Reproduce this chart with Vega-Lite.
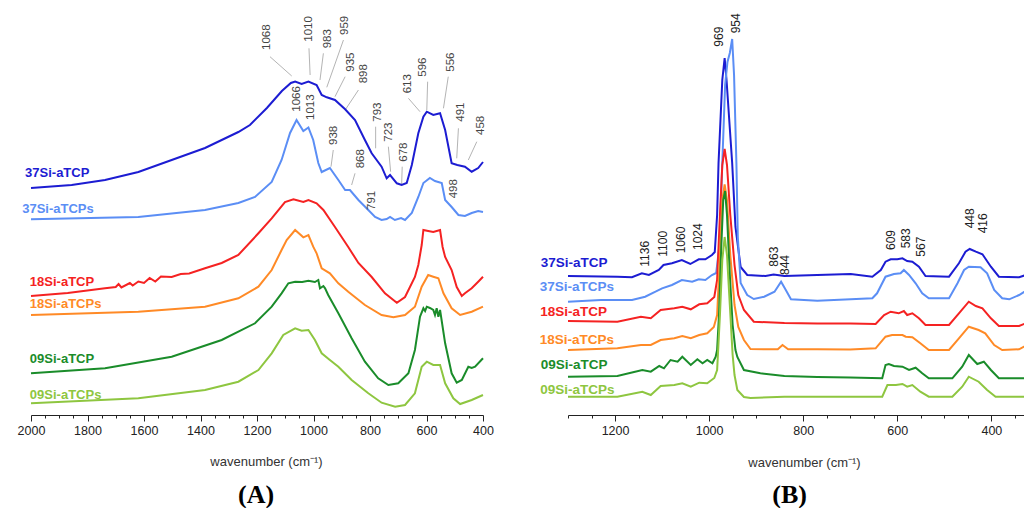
{
  "$schema": "https://vega.github.io/schema/vega-lite/v6.json",
  "padding": {"left": 17, "top": 10, "right": 0, "bottom": 0},
  "bounds": "flush",
  "spacing": 85,
  "background": "white",
  "config": {
    "view": {"stroke": null},
    "font": "Liberation Sans",
    "axis": {"labelFont": "Liberation Sans", "titleFont": "Liberation Sans"}
  },
  "datasets": {
    "ftir": [
      {"s":"P37","x":2000,"y":227},{"s":"P37","x":1856,"y":230},{"s":"P37","x":1738,"y":235},{"s":"P37","x":1620,"y":243},{"s":"P37","x":1502,"y":255},{"s":"P37","x":1384,"y":267},{"s":"P37","x":1266,"y":283},{"s":"P37","x":1225,"y":290},{"s":"P37","x":1165,"y":307},{"s":"P37","x":1112,"y":324},{"s":"P37","x":1080,"y":332},{"s":"P37","x":1065,"y":333.5},{"s":"P37","x":1042,"y":331},{"s":"P37","x":1018,"y":333.5},{"s":"P37","x":989,"y":330},{"s":"P37","x":971,"y":320},{"s":"P37","x":953,"y":317.7},{"s":"P37","x":924,"y":315},{"s":"P37","x":888,"y":305.7},{"s":"P37","x":853,"y":295},{"s":"P37","x":818,"y":275},{"s":"P37","x":794,"y":261.7},{"s":"P37","x":759,"y":248.3},{"s":"P37","x":741,"y":236.7},{"s":"P37","x":729,"y":240},{"s":"P37","x":705,"y":231.7},{"s":"P37","x":688,"y":230},{"s":"P37","x":670,"y":232},{"s":"P37","x":652,"y":250},{"s":"P37","x":629,"y":281.7},{"s":"P37","x":611,"y":298.3},{"s":"P37","x":599,"y":303.3},{"s":"P37","x":576,"y":300},{"s":"P37","x":552,"y":301.7},{"s":"P37","x":534,"y":285},{"s":"P37","x":511,"y":251.7},{"s":"P37","x":491,"y":250},{"s":"P37","x":464,"y":248.3},{"s":"P37","x":440,"y":243.3},{"s":"P37","x":417,"y":247},{"s":"P37","x":400,"y":253},
      {"s":"S37","x":2000,"y":195.7},{"s":"S37","x":1620,"y":198},{"s":"S37","x":1384,"y":205},{"s":"S37","x":1266,"y":212},{"s":"S37","x":1207,"y":218},{"s":"S37","x":1148,"y":233},{"s":"S37","x":1113,"y":255},{"s":"S37","x":1083,"y":282},{"s":"S37","x":1060,"y":295},{"s":"S37","x":1036,"y":284},{"s":"S37","x":1018,"y":287.5},{"s":"S37","x":1001,"y":275},{"s":"S37","x":983,"y":252},{"s":"S37","x":971,"y":243},{"s":"S37","x":942,"y":247},{"s":"S37","x":912,"y":235},{"s":"S37","x":888,"y":225},{"s":"S37","x":871,"y":225},{"s":"S37","x":841,"y":215},{"s":"S37","x":806,"y":205},{"s":"S37","x":782,"y":198},{"s":"S37","x":759,"y":195},{"s":"S37","x":741,"y":196},{"s":"S37","x":729,"y":198},{"s":"S37","x":712,"y":195},{"s":"S37","x":690,"y":197},{"s":"S37","x":676,"y":195},{"s":"S37","x":652,"y":202},{"s":"S37","x":629,"y":218},{"s":"S37","x":611,"y":232},{"s":"S37","x":588,"y":237},{"s":"S37","x":570,"y":234},{"s":"S37","x":546,"y":232},{"s":"S37","x":534,"y":215},{"s":"S37","x":511,"y":208},{"s":"S37","x":487,"y":200},{"s":"S37","x":464,"y":199},{"s":"S37","x":440,"y":202},{"s":"S37","x":417,"y":204},{"s":"S37","x":400,"y":203},
      {"s":"P18","x":2000,"y":119},{"s":"P18","x":1870,"y":122},{"s":"P18","x":1738,"y":126.7},{"s":"P18","x":1700,"y":128},{"s":"P18","x":1690,"y":131},{"s":"P18","x":1680,"y":127.5},{"s":"P18","x":1650,"y":132},{"s":"P18","x":1640,"y":129.5},{"s":"P18","x":1620,"y":133.5},{"s":"P18","x":1600,"y":132},{"s":"P18","x":1580,"y":137},{"s":"P18","x":1560,"y":133.5},{"s":"P18","x":1540,"y":138.5},{"s":"P18","x":1502,"y":138},{"s":"P18","x":1470,"y":141},{"s":"P18","x":1440,"y":141.5},{"s":"P18","x":1384,"y":146.7},{"s":"P18","x":1325,"y":152},{"s":"P18","x":1266,"y":160},{"s":"P18","x":1195,"y":181.7},{"s":"P18","x":1148,"y":196.7},{"s":"P18","x":1101,"y":213},{"s":"P18","x":1071,"y":215.7},{"s":"P18","x":1036,"y":213},{"s":"P18","x":1018,"y":215},{"s":"P18","x":989,"y":211.7},{"s":"P18","x":965,"y":205},{"s":"P18","x":924,"y":188},{"s":"P18","x":877,"y":168},{"s":"P18","x":841,"y":152},{"s":"P18","x":794,"y":138},{"s":"P18","x":747,"y":121.7},{"s":"P18","x":705,"y":112.3},{"s":"P18","x":676,"y":118},{"s":"P18","x":641,"y":138},{"s":"P18","x":629,"y":150},{"s":"P18","x":617,"y":170},{"s":"P18","x":611,"y":185},{"s":"P18","x":594,"y":184},{"s":"P18","x":576,"y":183},{"s":"P18","x":552,"y":185},{"s":"P18","x":543,"y":168},{"s":"P18","x":534,"y":158},{"s":"P18","x":511,"y":145},{"s":"P18","x":493,"y":128},{"s":"P18","x":475,"y":119},{"s":"P18","x":464,"y":121.7},{"s":"P18","x":440,"y":126.7},{"s":"P18","x":417,"y":133.3},{"s":"P18","x":400,"y":138.3},
      {"s":"S18","x":2000,"y":100},{"s":"S18","x":1620,"y":103.3},{"s":"S18","x":1384,"y":108.3},{"s":"S18","x":1266,"y":116.7},{"s":"S18","x":1195,"y":128.3},{"s":"S18","x":1148,"y":145},{"s":"S18","x":1113,"y":165},{"s":"S18","x":1095,"y":175},{"s":"S18","x":1065,"y":185},{"s":"S18","x":1036,"y":177.7},{"s":"S18","x":1018,"y":180},{"s":"S18","x":1001,"y":168.3},{"s":"S18","x":989,"y":161.7},{"s":"S18","x":971,"y":146.7},{"s":"S18","x":942,"y":141.7},{"s":"S18","x":912,"y":131.7},{"s":"S18","x":877,"y":123.3},{"s":"S18","x":818,"y":110},{"s":"S18","x":759,"y":100},{"s":"S18","x":717,"y":97.7},{"s":"S18","x":676,"y":100},{"s":"S18","x":641,"y":108.3},{"s":"S18","x":617,"y":128.3},{"s":"S18","x":594,"y":140},{"s":"S18","x":576,"y":138.3},{"s":"S18","x":558,"y":136.7},{"s":"S18","x":540,"y":121.7},{"s":"S18","x":511,"y":106.7},{"s":"S18","x":481,"y":100},{"s":"S18","x":440,"y":103.3},{"s":"S18","x":400,"y":108.3},
      {"s":"P09","x":2000,"y":41.7},{"s":"P09","x":1738,"y":46.7},{"s":"P09","x":1502,"y":58.3},{"s":"P09","x":1325,"y":75},{"s":"P09","x":1207,"y":91.7},{"s":"P09","x":1148,"y":108.3},{"s":"P09","x":1113,"y":121.7},{"s":"P09","x":1089,"y":131.7},{"s":"P09","x":1065,"y":133.3},{"s":"P09","x":1040,"y":133},{"s":"P09","x":1018,"y":134.3},{"s":"P09","x":995,"y":133},{"s":"P09","x":983,"y":135},{"s":"P09","x":977,"y":126.7},{"s":"P09","x":965,"y":129},{"s":"P09","x":959,"y":126.7},{"s":"P09","x":948,"y":120},{"s":"P09","x":912,"y":101.7},{"s":"P09","x":865,"y":76.7},{"s":"P09","x":818,"y":53.3},{"s":"P09","x":771,"y":36.7},{"s":"P09","x":735,"y":30},{"s":"P09","x":700,"y":31.7},{"s":"P09","x":664,"y":41.7},{"s":"P09","x":641,"y":65},{"s":"P09","x":623,"y":98.3},{"s":"P09","x":611,"y":106.7},{"s":"P09","x":605,"y":104},{"s":"P09","x":599,"y":108.3},{"s":"P09","x":588,"y":107},{"s":"P09","x":576,"y":105},{"s":"P09","x":570,"y":100},{"s":"P09","x":564,"y":106.7},{"s":"P09","x":558,"y":98.3},{"s":"P09","x":552,"y":105},{"s":"P09","x":534,"y":71.7},{"s":"P09","x":511,"y":41.7},{"s":"P09","x":493,"y":32.3},{"s":"P09","x":475,"y":35},{"s":"P09","x":452,"y":48.3},{"s":"P09","x":440,"y":47},{"s":"P09","x":428,"y":48.3},{"s":"P09","x":400,"y":56.7},
      {"s":"S09","x":2000,"y":11.7},{"s":"S09","x":1620,"y":16.7},{"s":"S09","x":1384,"y":25},{"s":"S09","x":1266,"y":33.3},{"s":"S09","x":1195,"y":45},{"s":"S09","x":1148,"y":61.7},{"s":"S09","x":1107,"y":80},{"s":"S09","x":1065,"y":86.7},{"s":"S09","x":1042,"y":84.3},{"s":"S09","x":1018,"y":85},{"s":"S09","x":995,"y":75},{"s":"S09","x":971,"y":61.7},{"s":"S09","x":942,"y":55},{"s":"S09","x":912,"y":48.3},{"s":"S09","x":865,"y":35},{"s":"S09","x":806,"y":21.7},{"s":"S09","x":759,"y":12.3},{"s":"S09","x":711,"y":8.3},{"s":"S09","x":676,"y":10},{"s":"S09","x":641,"y":21.7},{"s":"S09","x":617,"y":48.3},{"s":"S09","x":599,"y":53.3},{"s":"S09","x":576,"y":50},{"s":"S09","x":552,"y":50},{"s":"S09","x":534,"y":31.7},{"s":"S09","x":505,"y":16.7},{"s":"S09","x":481,"y":11},{"s":"S09","x":440,"y":15},{"s":"S09","x":400,"y":20}
    ],
    "raman": [
      {"s":"P37","x":1300,"y":139},{"s":"P37","x":1195,"y":138.3},{"s":"P37","x":1164,"y":137.7},{"s":"P37","x":1143,"y":141.7},{"s":"P37","x":1128,"y":140},{"s":"P37","x":1107,"y":145},{"s":"P37","x":1097,"y":150},{"s":"P37","x":1079,"y":151.7},{"s":"P37","x":1058,"y":155},{"s":"P37","x":1040,"y":151},{"s":"P37","x":1022,"y":155.7},{"s":"P37","x":1008,"y":155.7},{"s":"P37","x":994,"y":160},{"s":"P37","x":988,"y":163},{"s":"P37","x":983,"y":200},{"s":"P37","x":980,"y":252},{"s":"P37","x":972,"y":335},{"s":"P37","x":967,"y":357},{"s":"P37","x":963,"y":335},{"s":"P37","x":951,"y":252},{"s":"P37","x":944,"y":188},{"s":"P37","x":933,"y":148},{"s":"P37","x":919,"y":140},{"s":"P37","x":880,"y":139},{"s":"P37","x":863,"y":140.5},{"s":"P37","x":840,"y":139},{"s":"P37","x":770,"y":140},{"s":"P37","x":699,"y":141},{"s":"P37","x":653,"y":138.3},{"s":"P37","x":635,"y":145},{"s":"P37","x":625,"y":153.3},{"s":"P37","x":614,"y":155.7},{"s":"P37","x":600,"y":155.7},{"s":"P37","x":589,"y":156.7},{"s":"P37","x":579,"y":154},{"s":"P37","x":568,"y":153.3},{"s":"P37","x":554,"y":148.3},{"s":"P37","x":540,"y":139},{"s":"P37","x":490,"y":138.3},{"s":"P37","x":469,"y":151.7},{"s":"P37","x":455,"y":163.3},{"s":"P37","x":446,"y":166},{"s":"P37","x":433,"y":163.3},{"s":"P37","x":419,"y":160.7},{"s":"P37","x":401,"y":148.3},{"s":"P37","x":384,"y":138.3},{"s":"P37","x":341,"y":137.7},{"s":"P37","x":320,"y":141},
      {"s":"S37","x":1300,"y":113.3},{"s":"S37","x":1230,"y":115},{"s":"S37","x":1164,"y":115},{"s":"S37","x":1136,"y":118.3},{"s":"S37","x":1114,"y":123.3},{"s":"S37","x":1100,"y":126.7},{"s":"S37","x":1079,"y":130},{"s":"S37","x":1058,"y":135},{"s":"S37","x":1036,"y":133.3},{"s":"S37","x":1022,"y":135.7},{"s":"S37","x":1008,"y":135},{"s":"S37","x":994,"y":140},{"s":"S37","x":985,"y":142},{"s":"S37","x":978,"y":170},{"s":"S37","x":972,"y":252},{"s":"S37","x":966,"y":330},{"s":"S37","x":961,"y":353},{"s":"S37","x":956,"y":362},{"s":"S37","x":951,"y":376},{"s":"S37","x":947,"y":340},{"s":"S37","x":942,"y":252},{"s":"S37","x":939,"y":178},{"s":"S37","x":933,"y":132},{"s":"S37","x":919,"y":120},{"s":"S37","x":905,"y":116},{"s":"S37","x":883,"y":118.3},{"s":"S37","x":861,"y":123.3},{"s":"S37","x":847,"y":133.3},{"s":"S37","x":837,"y":125},{"s":"S37","x":826,"y":115.7},{"s":"S37","x":770,"y":114.3},{"s":"S37","x":699,"y":115.7},{"s":"S37","x":653,"y":116.7},{"s":"S37","x":643,"y":121.7},{"s":"S37","x":625,"y":138.3},{"s":"S37","x":607,"y":141},{"s":"S37","x":593,"y":141.7},{"s":"S37","x":586,"y":145},{"s":"S37","x":575,"y":140},{"s":"S37","x":561,"y":131.7},{"s":"S37","x":547,"y":121.7},{"s":"S37","x":533,"y":116.7},{"s":"S37","x":490,"y":116.7},{"s":"S37","x":472,"y":131.7},{"s":"S37","x":458,"y":145},{"s":"S37","x":448,"y":148.3},{"s":"S37","x":423,"y":147.7},{"s":"S37","x":409,"y":141.7},{"s":"S37","x":394,"y":125},{"s":"S37","x":377,"y":116.7},{"s":"S37","x":362,"y":115.7},{"s":"S37","x":341,"y":120},{"s":"S37","x":320,"y":126},
      {"s":"P18","x":1300,"y":94},{"s":"P18","x":1195,"y":93.3},{"s":"P18","x":1145,"y":98.3},{"s":"P18","x":1124,"y":96.7},{"s":"P18","x":1103,"y":105},{"s":"P18","x":1074,"y":106.7},{"s":"P18","x":1057,"y":108.3},{"s":"P18","x":1039,"y":105.7},{"s":"P18","x":1021,"y":110.7},{"s":"P18","x":1004,"y":111.7},{"s":"P18","x":989,"y":118},{"s":"P18","x":983,"y":135},{"s":"P18","x":977,"y":200},{"s":"P18","x":972,"y":250},{"s":"P18","x":967,"y":266},{"s":"P18","x":962,"y":250},{"s":"P18","x":955,"y":200},{"s":"P18","x":946,"y":150},{"s":"P18","x":938,"y":120},{"s":"P18","x":926,"y":105},{"s":"P18","x":905,"y":93.3},{"s":"P18","x":840,"y":92},{"s":"P18","x":770,"y":91.5},{"s":"P18","x":699,"y":91.5},{"s":"P18","x":646,"y":91},{"s":"P18","x":628,"y":100},{"s":"P18","x":614,"y":103.3},{"s":"P18","x":597,"y":101.7},{"s":"P18","x":586,"y":104},{"s":"P18","x":579,"y":100},{"s":"P18","x":568,"y":101.7},{"s":"P18","x":554,"y":96.7},{"s":"P18","x":540,"y":90},{"s":"P18","x":490,"y":90},{"s":"P18","x":469,"y":101.7},{"s":"P18","x":448,"y":113.3},{"s":"P18","x":433,"y":109},{"s":"P18","x":419,"y":106.7},{"s":"P18","x":401,"y":96.7},{"s":"P18","x":384,"y":89},{"s":"P18","x":341,"y":89},{"s":"P18","x":320,"y":93},
      {"s":"S18","x":1300,"y":65},{"s":"S18","x":1195,"y":66.7},{"s":"S18","x":1145,"y":70},{"s":"S18","x":1124,"y":70},{"s":"S18","x":1103,"y":75},{"s":"S18","x":1074,"y":76.7},{"s":"S18","x":1057,"y":79},{"s":"S18","x":1039,"y":76.7},{"s":"S18","x":1021,"y":80},{"s":"S18","x":1004,"y":81.7},{"s":"S18","x":990,"y":88},{"s":"S18","x":983,"y":100},{"s":"S18","x":977,"y":160},{"s":"S18","x":972,"y":215},{"s":"S18","x":967,"y":230.7},{"s":"S18","x":962,"y":215},{"s":"S18","x":955,"y":160},{"s":"S18","x":946,"y":110},{"s":"S18","x":938,"y":88},{"s":"S18","x":926,"y":75},{"s":"S18","x":912,"y":66},{"s":"S18","x":870,"y":65.7},{"s":"S18","x":854,"y":65.7},{"s":"S18","x":844,"y":70},{"s":"S18","x":832,"y":65.7},{"s":"S18","x":770,"y":65.7},{"s":"S18","x":700,"y":65.5},{"s":"S18","x":646,"y":66.7},{"s":"S18","x":625,"y":78.3},{"s":"S18","x":611,"y":80},{"s":"S18","x":589,"y":80},{"s":"S18","x":582,"y":78.3},{"s":"S18","x":568,"y":77.7},{"s":"S18","x":551,"y":71.7},{"s":"S18","x":533,"y":65},{"s":"S18","x":490,"y":65},{"s":"S18","x":469,"y":76.7},{"s":"S18","x":448,"y":88.3},{"s":"S18","x":427,"y":85},{"s":"S18","x":413,"y":81.7},{"s":"S18","x":394,"y":70},{"s":"S18","x":377,"y":65},{"s":"S18","x":341,"y":65.7},{"s":"S18","x":320,"y":71},
      {"s":"P09","x":1300,"y":38.3},{"s":"P09","x":1195,"y":39},{"s":"P09","x":1142,"y":45},{"s":"P09","x":1124,"y":43.3},{"s":"P09","x":1106,"y":49},{"s":"P09","x":1096,"y":46.7},{"s":"P09","x":1082,"y":55},{"s":"P09","x":1067,"y":53.3},{"s":"P09","x":1057,"y":58.3},{"s":"P09","x":1039,"y":50},{"s":"P09","x":1025,"y":55.7},{"s":"P09","x":1014,"y":51.7},{"s":"P09","x":1004,"y":55},{"s":"P09","x":993,"y":51.7},{"s":"P09","x":986,"y":58.3},{"s":"P09","x":983,"y":65},{"s":"P09","x":979,"y":100},{"s":"P09","x":974,"y":170},{"s":"P09","x":970,"y":215},{"s":"P09","x":966,"y":224},{"s":"P09","x":962,"y":200},{"s":"P09","x":956,"y":140},{"s":"P09","x":950,"y":90},{"s":"P09","x":944,"y":65},{"s":"P09","x":940,"y":58},{"s":"P09","x":926,"y":45},{"s":"P09","x":891,"y":41.7},{"s":"P09","x":840,"y":39},{"s":"P09","x":770,"y":38},{"s":"P09","x":700,"y":37.5},{"s":"P09","x":632,"y":36.7},{"s":"P09","x":625,"y":50},{"s":"P09","x":618,"y":51},{"s":"P09","x":607,"y":49},{"s":"P09","x":589,"y":48.3},{"s":"P09","x":575,"y":45},{"s":"P09","x":561,"y":47.3},{"s":"P09","x":547,"y":41.7},{"s":"P09","x":533,"y":36.7},{"s":"P09","x":483,"y":36.7},{"s":"P09","x":462,"y":48.3},{"s":"P09","x":448,"y":60},{"s":"P09","x":430,"y":51},{"s":"P09","x":416,"y":53.3},{"s":"P09","x":401,"y":45},{"s":"P09","x":384,"y":36.7},{"s":"P09","x":320,"y":36.7},
      {"s":"S09","x":1300,"y":18.3},{"s":"S09","x":1195,"y":18.3},{"s":"S09","x":1142,"y":23.3},{"s":"S09","x":1124,"y":20},{"s":"S09","x":1103,"y":29},{"s":"S09","x":1074,"y":30},{"s":"S09","x":1057,"y":31.7},{"s":"S09","x":1039,"y":28.3},{"s":"S09","x":1021,"y":32.3},{"s":"S09","x":1004,"y":31.7},{"s":"S09","x":989,"y":37},{"s":"S09","x":983,"y":45},{"s":"S09","x":977,"y":100},{"s":"S09","x":972,"y":155},{"s":"S09","x":967,"y":178},{"s":"S09","x":962,"y":160},{"s":"S09","x":956,"y":110},{"s":"S09","x":950,"y":60},{"s":"S09","x":946,"y":40},{"s":"S09","x":940,"y":25},{"s":"S09","x":926,"y":18},{"s":"S09","x":912,"y":17},{"s":"S09","x":840,"y":18.3},{"s":"S09","x":770,"y":18.3},{"s":"S09","x":700,"y":18.3},{"s":"S09","x":632,"y":18.3},{"s":"S09","x":621,"y":30},{"s":"S09","x":603,"y":30},{"s":"S09","x":589,"y":31},{"s":"S09","x":579,"y":28.3},{"s":"S09","x":568,"y":30},{"s":"S09","x":551,"y":23.3},{"s":"S09","x":533,"y":18.3},{"s":"S09","x":483,"y":18.3},{"s":"S09","x":462,"y":28.3},{"s":"S09","x":448,"y":38.3},{"s":"S09","x":427,"y":33.3},{"s":"S09","x":409,"y":25},{"s":"S09","x":391,"y":18.3},{"s":"S09","x":320,"y":18.3}
    ],
    "ftirLeaders": [
      {"x":1154,"y":358.3,"x2":1077,"y2":339},{"x":1016,"y":366.7,"x2":1012,"y2":340},{"x":965,"y":361.7,"x2":977,"y2":335},{"x":894,"y":375,"x2":953,"y2":327.7},{"x":888,"y":338.3,"x2":924,"y2":318.3},{"x":841,"y":325,"x2":888,"y2":305},{"x":780,"y":288.3,"x2":780,"y2":266.7},{"x":735,"y":268.3,"x2":727,"y2":243.3},{"x":686,"y":248.3,"x2":688,"y2":230},{"x":664,"y":316.7,"x2":623,"y2":303.3},{"x":596,"y":333.3,"x2":599,"y2":305},{"x":523,"y":338.3,"x2":540,"y2":306.7},{"x":487,"y":286.7,"x2":493,"y2":256.7},{"x":422,"y":273.3,"x2":452,"y2":255},{"x":930,"y":265,"x2":938,"y2":248.3},{"x":853,"y":241.7,"x2":865,"y2":230}
    ],
    "ftirPeaks": [
      {"t":"1068","x":1163,"y":365},{"t":"1010","x":1016,"y":373.3},{"t":"983","x":950,"y":366.7},{"t":"959","x":888,"y":380},{"t":"935","x":868,"y":343.3},{"t":"898","x":821,"y":331.7},{"t":"793","x":773,"y":293.3},{"t":"723","x":733,"y":273.3},{"t":"678","x":680,"y":253.3},{"t":"613","x":667,"y":321.7},{"t":"596","x":614,"y":338.3},{"t":"556","x":514,"y":343.3},{"t":"491","x":478,"y":293.3},{"t":"458","x":407,"y":280},{"t":"1066","x":1057,"y":303.3},{"t":"1013","x":1009,"y":295},{"t":"938","x":927,"y":270},{"t":"868","x":832,"y":246.7},{"t":"791","x":793,"y":205},{"t":"498","x":503,"y":216.7}
    ],
    "ramanPeaks": [
      {"t":"1136","x":1135.5,"y":148.3},{"t":"1100","x":1098,"y":158.3},{"t":"1060","x":1059,"y":161.7},{"t":"1024","x":1024,"y":165},{"t":"969","x":979.6,"y":368.3},{"t":"954","x":942.5,"y":381.7},{"t":"863","x":863,"y":148.3},{"t":"844","x":838,"y":140},{"t":"609","x":614,"y":165},{"t":"583","x":580.6,"y":166.7},{"t":"567","x":550.4,"y":158.3},{"t":"448","x":445.5,"y":186.7},{"t":"416","x":417,"y":181.7}
    ],
    "ftirLabels": [
      {"s":"P37","t":"37Si-aTCP","x":2021,"y":242},{"s":"S37","t":"37Si-aTCPs","x":2031,"y":206},{"s":"P18","t":"18Si-aTCP","x":2004,"y":133},{"s":"S18","t":"18Si-aTCPs","x":2004,"y":111},{"s":"P09","t":"09Si-aTCP","x":2004,"y":56},{"s":"S09","t":"09Si-aTCPs","x":2004,"y":20}
    ],
    "ramanLabels": [
      {"s":"P37","t":"37Si-aTCP","x":1358,"y":152.3},{"s":"S37","t":"37Si-aTCPs","x":1360,"y":127.7},{"s":"P18","t":"18Si-aTCP","x":1359,"y":102.7},{"s":"S18","t":"18Si-aTCPs","x":1360,"y":75},{"s":"P09","t":"09Si-aTCP","x":1358,"y":50},{"s":"S09","t":"09Si-aTCPs","x":1359,"y":25}
    ],
    "panelA": [{"t":"(A)","x":1203,"y":-80}],
    "panelB": [{"t":"(B)","x":829,"y":-80}]
  },
  "hconcat": [
    {
      "width": 452,
      "height": 405,
      "encoding": {
        "x": {"field":"x","type":"quantitative","scale":{"domain":[2000,400],"nice":false,"zero":false},
          "axis": {"values":[400,450,500,550,600,650,700,750,800,850,900,950,1000,1050,1100,1150,1200,1250,1300,1350,1400,1450,1500,1550,1600,1650,1700,1750,1800,1850,1900,1950,2000],
            "format":"d","labelExpr":"datum.value % 200 === 0 ? datum.label : ''","labelOverlap":false,"labelFlush":false,
            "tickSize":{"condition":{"test":"datum.value % 200 === 0","value":6},"value":3},
            "grid":false,"domainColor":"#222222","tickColor":"#222222","labelColor":"#222222","labelFontSize":12.5,"labelPadding":3,
            "title":"wavenumber (cm⁻¹)","titleFontWeight":"normal","titleFontSize":13,"titleColor":"#333333","titleX":235,"titleY":46,"titleBaseline":"middle"}},
        "y": {"field":"y","type":"quantitative","scale":{"domain":[0,405],"nice":false,"zero":false},"axis":null}
      },
      "layer": [
        {"data":{"name":"ftirLeaders"},"mark":{"type":"rule","color":"#b4b4b4","strokeWidth":1},
          "encoding":{"x2":{"field":"x2"},"y2":{"field":"y2"}}},
        {"data":{"name":"ftir"},"mark":{"type":"line","strokeWidth":2},
          "encoding":{"color":{"field":"s","type":"nominal","scale":{"domain":["P37","S37","P18","S18","P09","S09"],"range":["#1c1cd2","#5b8ef5","#f52222","#ff8a26","#1a8c2a","#8ec640"]},"legend":null}}},
        {"data":{"name":"ftirPeaks"},"mark":{"type":"text","angle":270,"align":"left","baseline":"middle","fontSize":11.5,"color":"#444444"},
          "encoding":{"text":{"field":"t"}}},
        {"data":{"name":"ftirLabels"},"mark":{"type":"text","align":"left","baseline":"middle","fontSize":13,"fontWeight":"bold"},
          "encoding":{"text":{"field":"t"},"color":{"field":"s","type":"nominal","legend":null}}},
        {"data":{"name":"panelA"},"mark":{"type":"text","align":"center","baseline":"middle","fontSize":26,"fontWeight":"bold","font":"Liberation Serif","color":"#000000"},
          "encoding":{"text":{"field":"t"}}}
      ]
    },
    {
      "width": 461,
      "height": 405,
      "encoding": {
        "x": {"field":"x","type":"quantitative","scale":{"domain":[1300,320],"nice":false,"zero":false},
          "axis": {"values":[350,400,450,500,550,600,650,700,750,800,850,900,950,1000,1050,1100,1150,1200,1250,1300],
            "format":"d","labelExpr":"datum.value % 200 === 0 ? datum.label : ''","labelOverlap":false,"labelFlush":false,
            "tickSize":{"condition":{"test":"datum.value % 200 === 0","value":6},"value":3},
            "grid":false,"domainColor":"#222222","tickColor":"#222222","labelColor":"#222222","labelFontSize":12.5,"labelPadding":3,
            "title":"wavenumber (cm⁻¹)","titleFontWeight":"normal","titleFontSize":13,"titleColor":"#333333","titleX":236,"titleY":47,"titleBaseline":"middle"}},
        "y": {"field":"y","type":"quantitative","scale":{"domain":[0,405],"nice":false,"zero":false},"axis":null}
      },
      "layer": [
        {"data":{"name":"raman"},"mark":{"type":"line","strokeWidth":2},
          "encoding":{"color":{"field":"s","type":"nominal","legend":null}}},
        {"data":{"name":"ramanPeaks"},"mark":{"type":"text","angle":270,"align":"left","baseline":"middle","fontSize":12,"color":"#222222"},
          "encoding":{"text":{"field":"t"}}},
        {"data":{"name":"ramanLabels"},"mark":{"type":"text","align":"left","baseline":"middle","fontSize":13.5,"fontWeight":"bold"},
          "encoding":{"text":{"field":"t"},"color":{"field":"s","type":"nominal","legend":null}}},
        {"data":{"name":"panelB"},"mark":{"type":"text","align":"center","baseline":"middle","fontSize":26,"fontWeight":"bold","font":"Liberation Serif","color":"#000000"},
          "encoding":{"text":{"field":"t"}}}
      ]
    }
  ]
}
